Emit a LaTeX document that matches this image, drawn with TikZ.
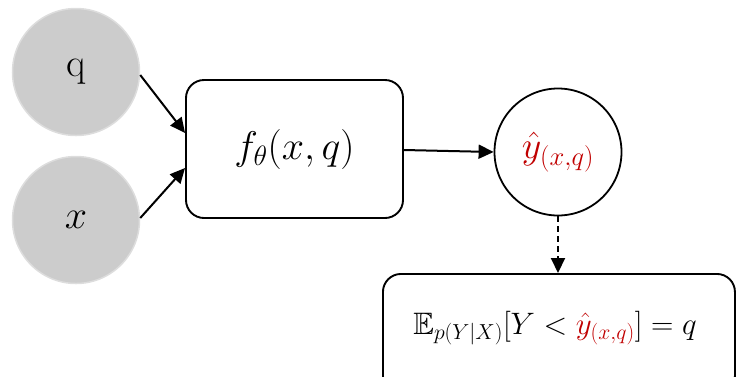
\RequirePackage{fix-cm}
\documentclass[tikz,border=0pt]{standalone}
\usepackage{amssymb}
\usetikzlibrary{arrows.meta}
\definecolor{incirc}{HTML}{CCCCCC}
\definecolor{incircb}{HTML}{DDDDDD}
\definecolor{outred}{HTML}{C00000}
\tikzset{
  inputnode/.style={circle, fill=incirc, draw=incircb, line width=1.5pt, minimum size=127pt, inner sep=0pt},
  outnode/.style={circle, draw=black, line width=1.8pt, minimum size=127pt, inner sep=0pt},
  boxnode/.style={rectangle, rounded corners=18pt, draw=black, line width=1.9pt, inner sep=0pt},
  conn/.style={line width=2pt, -{Triangle[length=15pt,width=14pt]}},
}
\begin{document}
\begin{tikzpicture}[x=1pt,y=-1pt]
\useasboundingbox (0,0) rectangle (736,376);
\node[inputnode] (q) at (76,72) {\fontsize{40}{44}\selectfont q};
\node[inputnode] (x) at (76,220) {\fontsize{40}{44}\selectfont $x$};
\node[boxnode, minimum width=217pt, minimum height=138pt] (f) at (294.5,149) {\fontsize{40}{44}\selectfont $f_\theta(x,q)$};
\node[outnode] (y) at (558,152) {\fontsize{38}{42}\selectfont\color{outred}$\hat{y}_{(x,q)}$};
\node[boxnode, minimum width=352pt, minimum height=120pt, anchor=north west] (e) at (382,273) {};
\node (eq) at (555,328) {\fontsize{31}{35}\selectfont $\mathbb{E}_{p(Y|X)}\bigl[Y<{\color{outred}\hat{y}_{(x,q)}}\bigr]=q$};
\draw[conn] (q.east) ++(0,3) -- (f.west |- 0,133);
\draw[conn] (x.east) ++(0,-2) -- (f.west |- 0,168);
\draw[conn] (f.east |- 0,150) -- (y.west);
\draw[conn, dashed, dash pattern=on 6pt off 4pt] (y.south) -- (e.north -| y.south);
\end{tikzpicture}
\end{document}
